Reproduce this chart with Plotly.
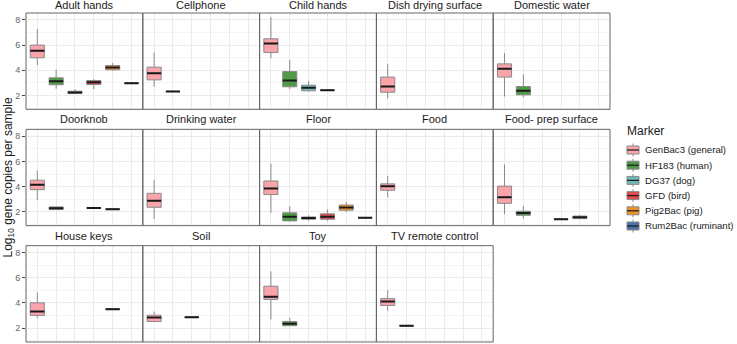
import plotly.graph_objects as go
from plotly.subplots import make_subplots

panels = ["Adult hands", "Cellphone", "Child hands", "Dish drying surface", "Domestic water",
          "Doorknob", "Drinking water", "Floor", "Food", "Food- prep surface",
          "House keys", "Soil", "Toy", "TV remote control"]

markers = ["GenBac3 (general)", "HF183 (human)", "DG37 (dog)", "GFD (bird)",
           "Pig2Bac (pig)", "Rum2Bac (ruminant)"]
colors = ["#F9A3AB", "#4F9B45", "#6FB8B8", "#E3484F", "#F0922A", "#4A72A8"]

# [lower whisker, q1, median, q3, upper whisker]
genbac3 = {
    "Adult hands": [4.41, 4.99, 5.55, 6.00, 7.29],
    "Cellphone": [2.69, 3.24, 3.77, 4.25, 5.41],
    "Child hands": [4.96, 5.41, 6.13, 6.50, 8.22],
    "Dish drying surface": [1.76, 2.26, 2.71, 3.46, 4.51],
    "Domestic water": [1.92, 3.46, 4.12, 4.51, 5.36],
    "Doorknob": [2.96, 3.76, 4.14, 4.51, 5.28],
    "Drinking water": [1.43, 2.36, 2.88, 3.47, 4.53],
    "Floor": [1.92, 3.37, 3.86, 4.45, 5.82],
    "Food": [3.16, 3.71, 4.02, 4.22, 4.84],
    "Food- prep surface": [1.82, 2.67, 3.16, 4.04, 5.75],
    "House keys": [2.79, 3.01, 3.32, 4.01, 4.83],
    "Soil": [2.50, 2.53, 2.85, 3.03, 3.32],
    "Toy": [2.69, 4.28, 4.49, 5.33, 6.50],
    "TV remote control": [3.38, 3.80, 4.12, 4.35, 5.02],
}
hf183 = {
    "Adult hands": [2.53, 2.85, 3.14, 3.40, 4.04],
    "Cellphone": [2.32, 2.32, 2.32, 2.32, 2.32],
    "Child hands": [2.50, 2.69, 3.19, 3.90, 4.83],
    "Domestic water": [1.84, 2.05, 2.37, 2.71, 3.69],
    "Doorknob": [2.18, 2.18, 2.28, 2.39, 2.39],
    "Floor": [1.22, 1.28, 1.61, 1.92, 2.44],
    "Food- prep surface": [1.48, 1.72, 1.90, 2.05, 2.47],
    "Toy": [2.19, 2.19, 2.34, 2.53, 2.82],
    "TV remote control": [2.19, 2.19, 2.19, 2.19, 2.19],
}
dg37 = {
    "Adult hands": [2.13, 2.16, 2.24, 2.34, 2.50],
    "Child hands": [2.29, 2.37, 2.61, 2.82, 3.16],
    "Floor": [1.28, 1.41, 1.51, 1.59, 1.72],
    "Soil": [2.87, 2.87, 2.87, 2.87, 2.87],
}
gfd = {
    "Adult hands": [2.50, 2.87, 3.06, 3.19, 3.30],
    "Child hands": [2.42, 2.42, 2.42, 2.42, 2.42],
    "Doorknob": [2.31, 2.31, 2.31, 2.31, 2.31],
    "Floor": [1.28, 1.41, 1.61, 1.84, 2.18],
    "Food- prep surface": [1.41, 1.41, 1.41, 1.41, 1.41],
}
pig2bac = {
    "Adult hands": [3.96, 4.04, 4.22, 4.38, 4.57],
    "Doorknob": [2.21, 2.21, 2.21, 2.21, 2.21],
    "Floor": [1.97, 2.13, 2.34, 2.54, 2.78],
    "Food- prep surface": [1.43, 1.46, 1.56, 1.66, 1.74],
    "House keys": [3.51, 3.51, 3.51, 3.51, 3.51],
}
rum2bac = {
    "Adult hands": [2.98, 2.98, 2.98, 2.98, 2.98],
    "Floor": [1.53, 1.53, 1.53, 1.53, 1.53],
}
marker_data = [genbac3, hf183, dg37, gfd, pig2bac, rum2bac]

y_ticks = [2, 4, 6, 8]
y_minor = [1, 3, 5, 7]
y_range = [0.9, 8.55]

W, H = 737, 344
ml, mr, mt, mb = 26, 127, 13, 2
plot_w = W - ml - mr
plot_h = H - mt - mb
gap = 20
vs = gap / plot_h

FONT = "Liberation Sans, Arial"
BORDER = "#666666"
WHISK = "#8A8A8A"

def px_x(px):
    return (px - ml) / plot_w

def px_y(py):
    return 1 - (py - mt) / plot_h

fig = make_subplots(rows=3, cols=5, horizontal_spacing=0, vertical_spacing=vs)

BW = 0.75
for pi, pname in enumerate(panels):
    r, c = pi // 5 + 1, pi % 5 + 1
    for mi, (mname, col, dat) in enumerate(zip(markers, colors, marker_data)):
        if pname not in dat:
            continue
        lo, q1, med, q3, hi = dat[pname]
        xpos = mi + 1
        fig.add_trace(go.Box(
            x=[xpos], q1=[q1], median=[med], q3=[q3], lowerfence=[lo], upperfence=[hi],
            width=BW, whiskerwidth=0, fillcolor=col,
            line=dict(color=WHISK, width=1),
            name=mname, showlegend=False, boxpoints=False, hoverinfo="skip",
        ), row=r, col=c)
        # median overlay in black
        fig.add_trace(go.Box(
            x=[xpos], q1=[med], median=[med], q3=[med], lowerfence=[med], upperfence=[med],
            width=BW, whiskerwidth=0, fillcolor="rgba(0,0,0,0)",
            line=dict(color="#1A1A1A", width=2),
            name=mname, showlegend=False, boxpoints=False, hoverinfo="skip",
        ), row=r, col=c)

for i in range(15):
    r, c = i // 5 + 1, i % 5 + 1
    visible = i < len(panels)
    fig.update_xaxes(row=r, col=c, range=[0.4, 6.6], tickvals=[1, 2, 3, 4, 5, 6],
                     showticklabels=False, ticks="", showgrid=True, gridcolor="#EBEBEB",
                     gridwidth=1, zeroline=False, showline=False,
                     visible=visible, automargin=False, fixedrange=True)
    fig.update_yaxes(row=r, col=c, range=y_range, tickvals=y_ticks,
                     showticklabels=(c == 1), ticks="outside" if c == 1 else "",
                     ticklen=3, tickcolor="#444444",
                     tickfont=dict(size=9, color="#666666", family=FONT),
                     showgrid=True, gridcolor="#EBEBEB", gridwidth=1,
                     minor=dict(tickvals=y_minor, showgrid=True, gridcolor="#F4F4F4",
                                gridwidth=1, ticks=""),
                     zeroline=False, showline=False,
                     visible=visible, automargin=False, fixedrange=True)

# panel borders and strip titles
for pi, pname in enumerate(panels):
    r, c = pi // 5 + 1, pi % 5 + 1
    sp = fig.get_subplot(r, c)
    xname = sp.xaxis.plotly_name.replace("axis", "")
    yname = sp.yaxis.plotly_name.replace("axis", "")
    fig.add_shape(type="rect", xref=f"{xname} domain", yref=f"{yname} domain",
                  x0=0, x1=1, y0=0, y1=1, line=dict(color=BORDER, width=1),
                  fillcolor="rgba(0,0,0,0)", layer="above")
    xd = sp.xaxis.domain
    yd = sp.yaxis.domain
    fig.add_annotation(text=pname, xref="paper", yref="paper",
                       x=(xd[0] + xd[1]) / 2, y=yd[1], xanchor="center", yanchor="bottom",
                       yshift=(0 if r == 1 else 2), showarrow=False,
                       font=dict(size=11, color="#1A1A1A", family=FONT))

fig.add_annotation(text="Log<sub>10</sub> gene copies per sample", xref="paper", yref="paper",
                   x=px_x(8), y=0.5, xanchor="center", yanchor="middle", textangle=-90,
                   showarrow=False, font=dict(size=12, color="#1A1A1A", family=FONT))

# legend (ggplot-style boxplot keys)
leg_left, leg_title_y, leg_first_y, leg_step = 625, 131, 150, 15.2
key_x0, key_x1, text_x = 627, 639, 644
fig.add_annotation(text="Marker", xref="paper", yref="paper", x=px_x(leg_left), y=px_y(leg_title_y),
                   xanchor="left", yanchor="middle", showarrow=False,
                   font=dict(size=12, color="#1A1A1A", family=FONT))
for i, (mname, col) in enumerate(zip(markers, colors)):
    cy = leg_first_y + i * leg_step
    kx = (key_x0 + key_x1) / 2
    fig.add_shape(type="line", xref="paper", yref="paper",
                  x0=px_x(kx), x1=px_x(kx), y0=px_y(cy - 6.5), y1=px_y(cy + 6.5),
                  line=dict(color=WHISK, width=1))
    fig.add_shape(type="rect", xref="paper", yref="paper",
                  x0=px_x(key_x0), x1=px_x(key_x1), y0=px_y(cy - 4), y1=px_y(cy + 4),
                  line=dict(color=WHISK, width=1), fillcolor=col)
    fig.add_shape(type="line", xref="paper", yref="paper",
                  x0=px_x(key_x0), x1=px_x(key_x1), y0=px_y(cy), y1=px_y(cy),
                  line=dict(color="#1A1A1A", width=1.2))
    fig.add_annotation(text=mname, xref="paper", yref="paper", x=px_x(text_x), y=px_y(cy),
                       xanchor="left", yanchor="middle", showarrow=False, borderpad=0,
                       font=dict(size=9.6, color="#1A1A1A", family=FONT))

fig.update_layout(
    width=W, height=H,
    margin=dict(l=ml, r=mr, t=mt, b=mb, autoexpand=False),
    plot_bgcolor="white", paper_bgcolor="white",
    boxmode="overlay", showlegend=False,
    font=dict(family=FONT, size=11, color="#1A1A1A"),
)

fig.write_html("out.html")
